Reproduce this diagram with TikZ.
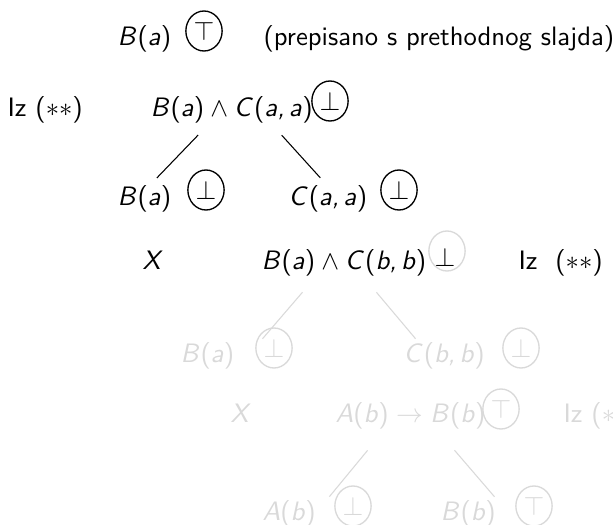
\documentclass[tikz,border=0pt]{standalone}
\usetikzlibrary{shapes.geometric}
\DeclareSymbolFont{sfops}{OT1}{cmss}{m}{n}
\DeclareSymbolFont{sfit}{OT1}{cmss}{m}{sl}
\DeclareMathSymbol{(}{\mathopen}{sfops}{"28}
\DeclareMathSymbol{)}{\mathclose}{sfops}{"29}
\DeclareMathSymbol{,}{\mathpunct}{sfit}{"2C}
\DeclareMathSymbol{A}{\mathalpha}{sfit}{`A}
\DeclareMathSymbol{B}{\mathalpha}{sfit}{`B}
\DeclareMathSymbol{C}{\mathalpha}{sfit}{`C}
\DeclareMathSymbol{X}{\mathalpha}{sfit}{`X}
\DeclareMathSymbol{a}{\mathalpha}{sfit}{`a}
\DeclareMathSymbol{b}{\mathalpha}{sfit}{`b}
\colorlet{faded}{black!15}
\tikzset{
  txt/.style={anchor=base west, inner sep=0pt},
  mark circ/.style={draw, ellipse, line width=0.5pt, minimum width=13.6pt, minimum height=15pt, inner sep=0pt},
  link/.style={line width=0.4pt, shorten <=2.6pt, shorten >=2.6pt},
}
\begin{document}
\begin{tikzpicture}[x=0.375pt,y=-0.375pt,font=\sffamily\fontsize{10}{12}\selectfont]
\useasboundingbox (0,0) rectangle (613,525);
\clip (0,0) rectangle (613,525);
% row 1
\node[txt] (r1f) at (117,45) {$B(a)$};
\node[mark circ] (r1c) at (204,31) {$\top$};
\node[txt] (r1n) at (263,45) {(prepisano s prethodnog slajda)};
% row 2
\node[txt] (r2iz) at (7,116) {Iz $(\ast\ast)$};
\node[txt] (r2f) at (150,116) {$B(a)\wedge C(a,a)$};
\node[mark circ] (r2c) at (330,101) {$\perp$};
\coordinate (l1a) at (203,130); \coordinate (l1b) at (152,183);
\coordinate (l2a) at (277,130); \coordinate (l2b) at (325,183);
\draw[link] (l1a) -- (l1b);
\draw[link] (l2a) -- (l2b);
% row 3
\node[txt] (r3f1) at (117,205) {$B(a)$};
\node[mark circ] (r3c1) at (206,190) {$\perp$};
\node[txt] (r3f2) at (288,205) {$C(a,a)$};
\node[mark circ] (r3c2) at (399,190) {$\perp$};
% row 4
\node[txt] (r4x) at (142,269) {$X$};
\node[txt] (r4f) at (261,269) {$B(a)\wedge C(b,b)$};
\node[mark circ, draw=faded, text opacity=0] (r4c) at (447,251) {$\perp$};
\node[txt] (r4s) at (434,266) {$\perp$};
\node[txt] (r4iz) at (518,269) {Iz~~$(\ast\ast)$};
\begin{scope}[faded]
\coordinate (l3a) at (307,287); \coordinate (l3b) at (258,344);
\coordinate (l4a) at (372,287); \coordinate (l4b) at (420,344);
\draw[link] (l3a) -- (l3b);
\draw[link] (l4a) -- (l4b);
% row 5
\node[txt] (r5f1) at (180,362) {$B(a)$};
\node[mark circ] (r5c1) at (274,348) {$\perp$};
\node[txt] (r5f2) at (403,362) {$C(b,b)$};
\node[mark circ] (r5c2) at (521,348) {$\perp$};
% row 6
\node[txt] (r6x) at (230,423) {$X$};
\node[txt] (r6f) at (335,423) {$A(b)\rightarrow B(b)$};
\node[mark circ] (r6c) at (501,409) {$\top$};
\node[txt] (r6iz) at (563,423) {Iz $(\ast\ast)$};
\coordinate (l5a) at (372,445); \coordinate (l5b) at (325,502);
\coordinate (l6a) at (450,445); \coordinate (l6b) at (499,502);
\draw[link] (l5a) -- (l5b);
\draw[link] (l6a) -- (l6b);
% row 7
\node[txt] (r7f1) at (262,520) {$A(b)$};
\node[mark circ] (r7c1) at (353,506) {$\perp$};
\node[txt] (r7f2) at (440,520) {$B(b)$};
\node[mark circ] (r7c2) at (534,506) {$\top$};
\end{scope}
\end{tikzpicture}
\end{document}
